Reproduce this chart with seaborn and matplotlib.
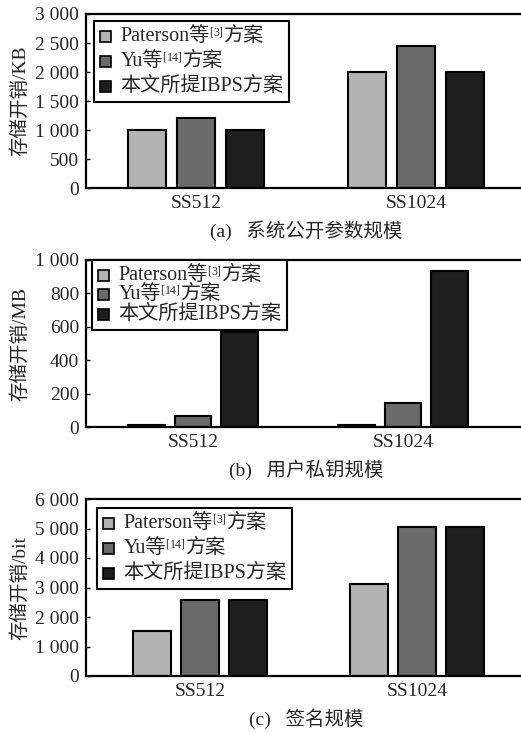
import numpy as np
import pandas as pd
import seaborn as sns
import matplotlib.pyplot as plt
from matplotlib.ticker import MultipleLocator, FuncFormatter
from matplotlib.offsetbox import TextArea, DrawingArea, HPacker, VPacker, AnchoredOffsetbox
from matplotlib.patches import Rectangle

# Data
sizes = ['SS512', 'SS1024']
schemes = ['Paterson', 'Yu', 'IBPS']
legend_head = ['Paterson等', 'Yu等', '本文所提IBPS方案']
legend_ref = ['[3]', '[14]', '']
legend_tail = ['方案', '方案', '']
colors = ['#b3b3b3', '#6a6a6a', '#1e1e1e']

# (a) public parameters, KB
pub_paterson = [1010, 2000]
pub_yu = [1210, 2450]
pub_ibps = [995, 2000]
# (b) user private key, MB
key_paterson = [14, 12]
key_yu = [65, 145]
key_ibps = [570, 935]
# (c) signature, bit
sig_paterson = [1540, 3110]
sig_yu = [2590, 5050]
sig_ibps = [2570, 5050]

ylabels = ['存储开销/KB', '存储开销/MB', '存储开销/bit']
captions = ['(a)   系统公开参数规模', '(b)   用户私钥规模', '(c)   签名规模']

sns.set_theme(style='white')
FONT = ['Liberation Serif', 'Noto Sans CJK SC']
plt.rcParams['font.family'] = FONT
plt.rcParams['font.size'] = 14
plt.rcParams['mathtext.fontset'] = 'custom'
plt.rcParams['mathtext.rm'] = 'Liberation Serif'


def long_form(p, y, i):
    return pd.DataFrame({
        'size': sizes * 3,
        'scheme': np.repeat(schemes, 2),
        'value': p + y + i,
    })


def thousands(v, pos):
    return f'{v:,.0f}'.replace(',', ' ')


def add_legend(ax, fig, x_px, y_px, row_sep):
    rows = []
    for head, ref, tail, color in zip(legend_head, legend_ref, legend_tail, colors):
        sq = DrawingArea(8, 8)
        sq.add_artist(Rectangle((0, 0), 8, 8, facecolor=color, edgecolor='black', linewidth=1.2))
        parts = [TextArea(head, textprops=dict(family=FONT, fontsize=14.5))]
        if ref:
            parts.append(TextArea(r'$\!\!^{\mathrm{' + ref + r'}}\!$', textprops=dict(fontsize=12)))
            parts.append(TextArea(tail, textprops=dict(family=FONT, fontsize=14.5)))
        label = HPacker(children=parts, align='baseline', pad=0, sep=0)
        rows.append(HPacker(children=[sq, label], align='center', pad=0, sep=7))
    col = VPacker(children=rows, align='left', pad=0, sep=row_sep)
    box = AnchoredOffsetbox(loc='upper left', child=col, pad=0.4, borderpad=0,
                            frameon=True, prop=dict(size=10),
                            bbox_to_anchor=(x_px / 521, 1 - y_px / 732),
                            bbox_transform=fig.transFigure)
    box.patch.set_boxstyle('square', pad=0)
    box.patch.set_edgecolor('black')
    box.patch.set_linewidth(1.5)
    ax.add_artist(box)


fig = plt.figure(figsize=(5.21, 7.32), dpi=100)

panels = [
    (long_form(pub_paterson, pub_yu, pub_ibps), 3000, 500, (-0.5, 1.5),
     [86 / 521, 1 - 188.3 / 732, 440 / 521, 174.3 / 732], (94, 21), 4.5),
    (long_form(key_paterson, key_yu, key_ibps), 1000, 200, (-0.51, 1.586),
     [86 / 521, 1 - 427.3 / 732, 440 / 521, 167.3 / 732], (92, 260), 0.5),
    (long_form(sig_paterson, sig_yu, sig_ibps), 6000, 1000, (-0.525, 1.502),
     [86 / 521, 1 - 676 / 732, 440 / 521, 177 / 732], (97, 508), 4.5),
]

for k, (df, ymax, step, xlim, rect, leg_xy, row_sep) in enumerate(panels):
    ax = fig.add_axes(rect)
    sns.barplot(data=df, x='size', y='value', hue='scheme', hue_order=schemes,
                palette=colors, width=0.665, gap=0.21, edgecolor='black',
                linewidth=1.5, saturation=1, legend=False, ax=ax)
    ax.set_xlim(*xlim)
    ax.set_ylim(0, ymax)
    ax.yaxis.set_major_locator(MultipleLocator(step))
    ax.yaxis.set_major_formatter(FuncFormatter(thousands))
    ax.tick_params(axis='y', direction='in', length=3, width=1, color='black',
                   pad=5, labelsize=14, left=True)
    ax.tick_params(axis='x', length=0, pad=5, labelsize=14)
    for side in ['left', 'bottom', 'top']:
        ax.spines[side].set_color('black')
        ax.spines[side].set_linewidth(1.6)
    ax.spines['right'].set_visible(False)
    ax.set_ylabel(ylabels[k], fontsize=14, labelpad=4)
    ax.set_xlabel(captions[k], fontsize=14, labelpad=6)
    add_legend(ax, fig, leg_xy[0], leg_xy[1], row_sep)

fig.savefig('out.png', dpi=100)
